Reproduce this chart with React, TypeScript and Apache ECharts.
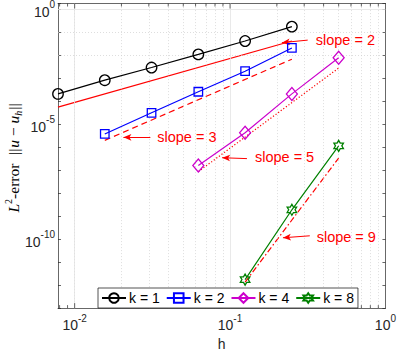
import React, { useEffect, useRef } from "react";
import * as echarts from "echarts";

// ---- data ----
const hK1 = [0.0078125, 0.015625, 0.03125, 0.0625, 0.125, 0.25];
const errK1 = [2.1e-4, 8.3e-4, 2.95e-3, 1.1e-2, 4.2e-2, 1.78e-1];
const hK2 = [0.015625, 0.03125, 0.0625, 0.125, 0.25];
const errK2 = [3.8e-6, 3.16e-5, 2.6e-4, 2.04e-3, 2.1e-2];
const hK4 = [0.0625, 0.125, 0.25, 0.5];
const errK4 = [1.62e-7, 4.3e-6, 2.1e-4, 7.9e-3];
const hK8 = [0.125, 0.25, 0.5];
const errK8 = [1.74e-12, 1.9e-9, 1.15e-6];

const hSlope2 = [0.0078125, 0.25];
const refSlope2 = [5.6e-5, 4.2e-2];
const hSlope3 = [0.015625, 0.25];
const refSlope3 = [2.0e-6, 6.8e-3];
const hSlope5 = [0.0625, 0.5];
const refSlope5 = [8.7e-8, 2.8e-3];
const hSlope9 = [0.125, 0.5];
const refSlope9 = [1.35e-12, 3.4e-7];

const seriesNames = ["k = 1", "k = 2", "k = 4", "k = 8"];
const slopeLabels = ["slope = 2", "slope = 3", "slope = 5", "slope = 9"];
const arrowFrom = [
  [0.316, 0.046],
  [0.0307, 2.7e-6],
  [0.1285, 3.2e-7],
  [0.326, 1.4e-10],
];
const arrowTo = [
  [0.2155, 0.0356],
  [0.0206, 2.7e-6],
  [0.0889, 3.5e-7],
  [0.219, 1.15e-10],
];
const labelAt = [
  [0.356, 0.045],
  [0.034, 2.7e-6],
  [0.1446, 3.6e-7],
  [0.361, 1.3e-10],
];

const X_MIN = 0.0078125;
const X_MAX = 1;
const Y_MIN = 1e-13;
const Y_MAX = 1.8;

const xMajorGrid = [0.01, 0.1];
const xMinorGrid = [
  0.008, 0.009, 0.02, 0.03, 0.04, 0.05, 0.06, 0.07, 0.08, 0.09, 0.2, 0.3, 0.4,
  0.5, 0.6, 0.7, 0.8, 0.9,
];
const yMajorGrid = [1e-10, 1e-5, 1];
const yMinorGrid = [
  1e-12, 1e-11, 1e-9, 1e-8, 1e-7, 1e-6, 1e-4, 1e-3, 1e-2, 1e-1,
];

const TXT = "#262626";
const HEX =
  "path://M100,0L128.9,50L186.6,50L157.7,100L186.6,150L128.9,150L100,200L71.1,150L13.4,150L42.3,100L13.4,50L71.1,50Z";

const zip = (a: number[], b: number[]) => a.map((v, i) => [v, b[i]]);

function expLabel(v: number, step: number) {
  const l = Math.log10(v);
  const e = Math.round(l);
  if (Math.abs(l - e) > 1e-6) return "";
  if (e % step !== 0) return "";
  return `{b|10}{s|${e}}`;
}

const tickRich = {
  b: { fontSize: 14, color: TXT, fontFamily: "Liberation Sans, Arial", verticalAlign: "bottom", lineHeight: 19 },
  s: { fontSize: 10, color: TXT, fontFamily: "Liberation Sans, Arial", verticalAlign: "top", lineHeight: 19 },
};

export default function App() {
  const ref = useRef<HTMLDivElement>(null);
  useEffect(() => {
    document.body.style.margin = "0";
    const chart = echarts.init(ref.current!, undefined, { renderer: "svg" });

    const dataSeries = (
      name: string,
      xs: number[],
      ys: number[],
      color: string,
      symbol: string,
      size: any
    ) => ({
      name,
      type: "line",
      data: zip(xs, ys),
      symbol,
      symbolSize: size,
      symbolKeepAspect: true,
      showSymbol: true,
      clip: false,
      lineStyle: { color, width: 1.2 },
      itemStyle: { color: "rgba(255,255,255,0)", borderColor: color, borderWidth: 1.3 },
      z: 5,
    });

    const refSeries = (xs: number[], ys: number[], type: any) => ({
      type: "line",
      data: zip(xs, ys),
      symbol: "none",
      clip: false,
      lineStyle: { color: "#ff0000", width: 1.2, type },
      z: 4,
    });

    const gridLine = (axis: "xAxis" | "yAxis", vals: number[], dotted: boolean) =>
      vals.map((v) => ({
        [axis]: v,
        lineStyle: dotted
          ? { color: "#d0d0d0", width: 0.7, type: [1, 2] }
          : { color: "#e3e3e3", width: 0.8, type: "solid" },
      }));

    const serif = "Liberation Serif, DejaVu Serif";
    const option: any = {
      animation: false,
      backgroundColor: "#ffffff",
      grid: { left: 58, top: 1, right: 12, bottom: 42, containLabel: false },
      xAxis: [
        {
          type: "log",
          logBase: 10,
          min: X_MIN,
          max: X_MAX,
          position: "bottom",
          name: "h",
          nameLocation: "middle",
          nameGap: 28,
          nameTextStyle: { fontSize: 14, color: TXT, fontFamily: "Liberation Sans, Arial" },
          axisLine: { show: true, lineStyle: { color: TXT, width: 0.7 } },
          axisTick: { show: false },
          splitLine: { show: false },
          minorTick: { show: false },
          axisLabel: {
            margin: 5,
            formatter: (v: number) => expLabel(v, 1),
            rich: tickRich,
            showMinLabel: true,
            showMaxLabel: true,
          },
        },
        {
          type: "log",
          logBase: 10,
          min: X_MIN,
          max: X_MAX,
          position: "top",
          axisLine: { show: true, lineStyle: { color: TXT, width: 0.7 } },
          axisTick: { show: false },
          axisLabel: { show: false },
          splitLine: { show: false },
        },
      ],
      yAxis: [
        {
          type: "log",
          logBase: 10,
          min: Y_MIN,
          max: Y_MAX,
          interval: 1,
          position: "left",
          axisLine: { show: true, lineStyle: { color: TXT, width: 0.7 } },
          axisTick: { show: true, inside: true, length: 3, lineStyle: { color: TXT, width: 0.7 } },
          splitLine: { show: false },
          axisLabel: {
            margin: 3,
            formatter: (v: number) => expLabel(v, 5),
            rich: tickRich,
          },
        },
        {
          type: "log",
          logBase: 10,
          min: Y_MIN,
          max: Y_MAX,
          interval: 1,
          position: "right",
          axisLine: { show: true, lineStyle: { color: TXT, width: 0.7 } },
          axisTick: { show: true, inside: true, length: 3, lineStyle: { color: TXT, width: 0.7 } },
          axisLabel: { show: false },
          splitLine: { show: false },
        },
      ],
      legend: {
        data: seriesNames,
        left: 98,
        top: 288,
        orient: "horizontal",
        itemWidth: 24,
        itemHeight: 12,
        itemGap: 6,
        padding: [3, 4, 3, 3],
        backgroundColor: "#ffffff",
        borderColor: TXT,
        borderWidth: 0.8,
        borderRadius: 0,
        textStyle: { fontSize: 14, color: "#000", fontFamily: "Liberation Sans, Arial", padding: [0, 0, 0, -2] },
        z: 20,
      },
      graphic: [
        {
          type: "text",
          x: 13,
          y: 157.5,
          rotation: Math.PI / 2,
          style: {
            text: "{i|L}{sup|2}{n|-error  }{bar|||}{i|u}{n| − }{i|u}{sub|h}{bar|||}",
            align: "center",
            verticalAlign: "middle",
            rich: {
              i: { fontFamily: serif, fontStyle: "italic", fontSize: 15.5, lineHeight: 20, verticalAlign: "middle", fill: "#000" },
              n: { fontFamily: serif, fontSize: 15.5, lineHeight: 20, verticalAlign: "middle", fill: "#000" },
              bar: { fontFamily: serif, fontSize: 15.5, lineHeight: 20, verticalAlign: "middle", fill: "#000", padding: [0, 1, 0, 1] },
              sup: { fontFamily: serif, fontSize: 10, lineHeight: 20, verticalAlign: "top", fill: "#000" },
              sub: { fontFamily: serif, fontStyle: "italic", fontSize: 10, lineHeight: 20, verticalAlign: "bottom", fill: "#000" },
            },
          },
        },
      ],
      series: [
        {
          type: "line",
          data: [],
          silent: true,
          z: 1,
          markLine: {
            silent: true,
            symbol: ["none", "none"],
            label: { show: false },
            data: [
              ...gridLine("xAxis", xMinorGrid, true),
              ...gridLine("yAxis", yMinorGrid, true),
              ...gridLine("xAxis", xMajorGrid, false),
              ...gridLine("yAxis", yMajorGrid, false),
            ],
          },
        },
        {
          type: "custom",
          silent: true,
          clip: false,
          z: 6,
          data: [...xMajorGrid.map((v) => [v, 1]), ...xMinorGrid.map((v) => [v, 0])],
          encode: { x: 0 },
          renderItem: (params: any, api: any) => {
            const x = api.value(0);
            const major = api.value(1) === 1;
            const len = major ? 5 : 3;
            const b = api.coord([x, Y_MIN]);
            const t = api.coord([x, Y_MAX]);
            const st = { stroke: TXT, lineWidth: 0.7 };
            return {
              type: "group",
              children: [
                { type: "line", shape: { x1: b[0], y1: b[1], x2: b[0], y2: b[1] - len }, style: st },
                { type: "line", shape: { x1: t[0], y1: t[1], x2: t[0], y2: t[1] + len }, style: st },
              ],
            };
          },
        },
        dataSeries(seriesNames[0], hK1, errK1, "#000000", "circle", 10.5),
        dataSeries(seriesNames[1], hK2, errK2, "#0000ff", "rect", 8.5),
        dataSeries(seriesNames[2], hK4, errK4, "#cc00cc", "diamond", [11, 13]),
        dataSeries(seriesNames[3], hK8, errK8, "#008000", HEX, 11),
        refSeries(hSlope2, refSlope2, "solid"),
        refSeries(hSlope3, refSlope3, [6, 4]),
        refSeries(hSlope5, refSlope5, [1.2, 2]),
        refSeries(hSlope9, refSlope9, [6, 2.5, 1.5, 2.5]),
        {
          type: "line",
          data: [],
          z: 7,
          markLine: {
            silent: true,
            label: { show: false },
            lineStyle: { color: "#ff0000", width: 1, type: "solid" },
            data: arrowFrom.map((f, i) => [
              { coord: f, symbol: "none" },
              { coord: arrowTo[i], symbol: "arrow", symbolSize: [5, 8] },
            ]),
          },
          markPoint: {
            silent: true,
            symbol: "circle",
            symbolSize: 0,
            label: {
              show: true,
              position: "right",
              distance: 0,
              color: "#ff0000",
              fontSize: 14.5,
              fontFamily: "Liberation Sans, Arial",
              formatter: (p: any) => p.name,
            },
            data: labelAt.map((c, i) => ({ coord: c, name: slopeLabels[i] })),
          },
        },
      ],
    };
    chart.setOption(option);
    return () => chart.dispose();
  }, []);
  return <div ref={ref} style={{ width: 399, height: 356 }} />;
}
